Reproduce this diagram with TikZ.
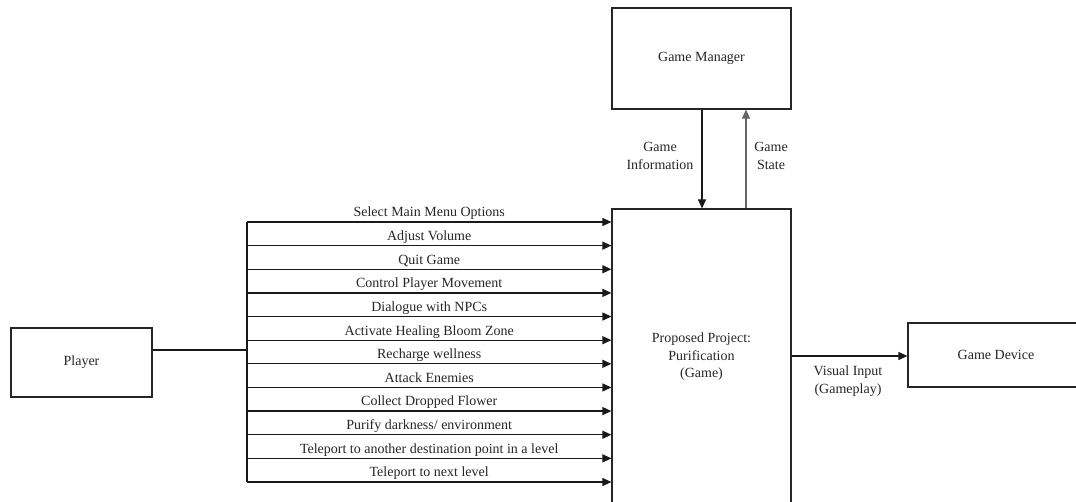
\documentclass[tikz,border=0pt]{standalone}
\usepackage{fontspec}
\setmainfont{Liberation Serif}
\usetikzlibrary{arrows.meta,calc}
\tikzset{
  box/.style={draw=black!85, line width=1.2pt, rectangle, inner sep=0pt, align=center, text=black!85},
  flow/.style={draw=black!90, line width=1.2pt, -{Triangle[length=9pt,width=8pt]}},
  plain/.style={draw=black!90, line width=1.2pt},
  lbl/.style={text=black!85, align=center, inner sep=1pt},
  buslbl/.style={lbl, text height=9.5pt, text depth=3pt},
}
\begin{document}
\begin{tikzpicture}[x=1pt,y=-1pt,font=\fontsize{14}{17.5}\selectfont]
\useasboundingbox (0,0) rectangle (1076,502);
\clip (0,0) rectangle (1076,502);
\fill[white] (0,0) rectangle (1076,502);
% boxes
\node[box, minimum width=179pt, minimum height=101pt] (gm) at (701.5,58.5) {Game Manager};
\node[box, minimum width=179pt, minimum height=296pt] (pp) at (701.5,357) {Proposed Project:\\Purification\\(Game)};
\node[box, minimum width=141pt, minimum height=69pt] (player) at (81.5,362.5) {Player};
\node[box, minimum width=176pt, minimum height=64pt] (gd) at (996,355) {Game Device};
% top connectors
\coordinate (gi) at (702,0);
\coordinate (gs) at (746,0);
\draw[flow] (gi |- gm.south) -- (gi |- pp.north);
\draw[flow, draw=black!60] (gs |- pp.north) -- (gs |- gm.south);
\node[lbl] (gilbl) at (660,156) {Game\\Information};
\node[lbl] (gslbl) at (771,156) {Game\\State};
% visual input
\coordinate (vi) at (0,356);
\draw[flow] (vi -| pp.east) -- (vi -| gd.west);
\node[lbl] (vilbl) at (848,381) {Visual Input\\(Gameplay)};
% player bus
\coordinate (j) at (247,350);
\coordinate (btop) at (247,222);
\coordinate (bbot) at (247,482);
\draw[plain] ([yshift=12.5pt]player.east) -- (j);
\draw[plain] (btop) -- (bbot);
\foreach \i/\t in {0/{Select Main Menu Options},1/{Adjust Volume},2/{Quit Game},3/{Control Player Movement},4/{Dialogue with NPCs},5/{Activate Healing Bloom Zone},6/{Recharge wellness},7/{Attack Enemies},8/{Collect Dropped Flower},9/{Purify darkness/ environment},10/{Teleport to another destination point in a level},11/{Teleport to next level}}{
  \coordinate (b\i) at (247,{222+\i*23.636});
  \draw[flow] (b\i) -- (b\i -| pp.west) node[midway, above=0.5pt, buslbl] {\t};
}
\end{tikzpicture}
\end{document}
